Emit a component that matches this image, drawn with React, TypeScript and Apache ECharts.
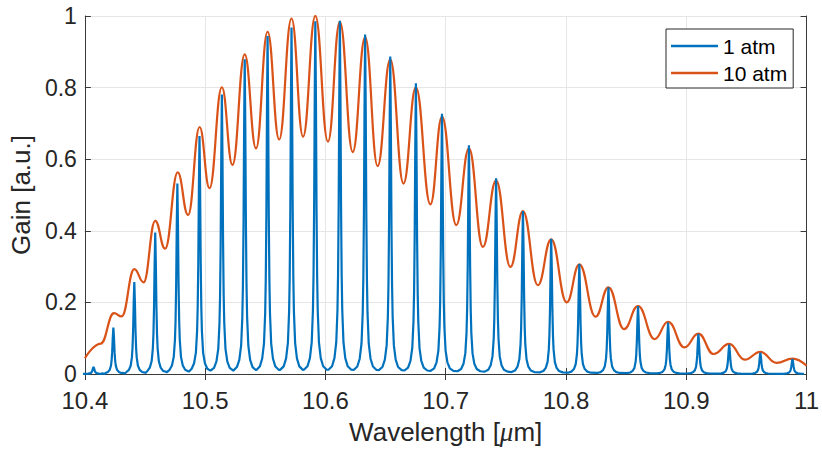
import React, { useEffect, useRef } from "react";
import * as echarts from "echarts";

// Tick labels
const xTickValues = [10.4, 10.5, 10.6, 10.7, 10.8, 10.9, 11];
const xTickLabels = ["10.4", "10.5", "10.6", "10.7", "10.8", "10.9", "11"];
const yTickValues = [0, 0.2, 0.4, 0.6, 0.8, 1];
const yTickLabels = ["0", "0.2", "0.4", "0.6", "0.8", "1"];

// 1 atm: line centres (µm) and peak gains
const lineCenters = [
  10.4072, 10.4237, 10.4411, 10.4585, 10.4769, 10.4953, 10.5139, 10.5329, 10.5519,
  10.5718, 10.5916, 10.612, 10.633, 10.6539, 10.6752, 10.6969, 10.7193, 10.7419,
  10.7642, 10.7877, 10.8111, 10.8353, 10.8599, 10.8849, 10.9101, 10.9357, 10.9616,
  10.9883,
];
const gain1atm = [
  0.02, 0.13, 0.257, 0.395, 0.532, 0.665, 0.781, 0.879, 0.944, 0.968, 0.985, 0.987,
  0.948, 0.887, 0.812, 0.727, 0.639, 0.547, 0.455, 0.378, 0.307, 0.242, 0.19, 0.144,
  0.112, 0.082, 0.06, 0.042,
];
// shape of one narrow line (offset from centre in µm, fraction of peak)
const profileOffsets = [0, 0.0005, 0.001, 0.0015, 0.002, 0.003, 0.0045, 0.0065, 0.0095];
const profileFractions = [1, 0.78, 0.47, 0.28, 0.18, 0.09, 0.045, 0.022, 0.012];

// 10 atm: wavelength / gain at peaks, troughs and a few edge points
const wl10atm = [
  10.4, 10.4132, 10.4242, 10.4306, 10.4411, 10.4488, 10.4585, 10.4667, 10.4772,
  10.4858, 10.4954, 10.5036, 10.5139, 10.5227, 10.5329, 10.5423, 10.5519, 10.5615,
  10.5718, 10.5814, 10.5916, 10.6021, 10.612, 10.6227, 10.633, 10.6434, 10.6539,
  10.6649, 10.6752, 10.6873, 10.6969, 10.7088, 10.7193, 10.7309, 10.7419, 10.7538,
  10.7642, 10.7766, 10.7877, 10.8006, 10.8111, 10.8246, 10.8353, 10.8483, 10.8599,
  10.8737, 10.8849, 10.8985, 10.9101, 10.9227, 10.9357, 10.9486, 10.9616, 10.9751,
  10.9883, 11.0,
];
const gain10atm = [
  0.044, 0.085, 0.17, 0.161, 0.293, 0.256, 0.428, 0.35, 0.563, 0.444, 0.69,
  0.519, 0.801, 0.584, 0.893, 0.63, 0.956, 0.655, 0.993, 0.663, 1.0, 0.649, 0.984,
  0.62, 0.941, 0.581, 0.879, 0.532, 0.801, 0.474, 0.719, 0.416, 0.63, 0.355, 0.541,
  0.299, 0.455, 0.248, 0.376, 0.2, 0.306, 0.16, 0.242, 0.1255, 0.19, 0.0976, 0.146,
  0.0744, 0.113, 0.0558, 0.084, 0.04, 0.062, 0.031, 0.043, 0.023,
];

const seriesNames = ["1 atm", "10 atm"];
const FONT = "'Liberation Sans', Arial, Helvetica, sans-serif";

export default function App() {
  const ref = useRef<HTMLDivElement>(null);
  useEffect(() => {
    if (!ref.current) return;
    const chart = echarts.init(ref.current, undefined, { renderer: "svg" });

    const blue: [number, number][] = [];
    lineCenters.forEach((c, i) => {
      const h = gain1atm[i];
      for (let j = profileOffsets.length - 1; j >= 1; j--) blue.push([c - profileOffsets[j], h * profileFractions[j]]);
      blue.push([c, h]);
      for (let j = 1; j < profileOffsets.length; j++) blue.push([c + profileOffsets[j], h * profileFractions[j]]);
    });
    blue.sort((a, b) => a[0] - b[0]);
    const orange = wl10atm.map((w, i) => [w, gain10atm[i]]);

    const xFmt = (v: number) => {
      const k = xTickValues.findIndex((t) => Math.abs(t - v) < 1e-6);
      return k >= 0 ? xTickLabels[k] : "";
    };
    const yFmt = (v: number) => {
      const k = yTickValues.findIndex((t) => Math.abs(t - v) < 1e-6);
      return k >= 0 ? yTickLabels[k] : "";
    };
    const axisLineColor = "#3a3a3a";
    const tickStyle = { show: true, inside: true, length: 6, lineStyle: { color: axisLineColor, width: 1 } };

    chart.setOption({
      animation: false,
      backgroundColor: "#ffffff",
      grid: { left: 84, right: 12, top: 16, bottom: 75, containLabel: false },
      legend: {
        data: seriesNames,
        orient: "vertical",
        left: 666,
        top: 29,
        icon: "rect",
        backgroundColor: "#ffffff",
        borderColor: "#262626",
        borderWidth: 1,
        borderRadius: 0,
        padding: [6, 6, 4, 5],
        itemWidth: 47,
        itemHeight: 2.5,
        itemGap: 5,
        textStyle: { fontFamily: FONT, fontSize: 21, color: "#000", lineHeight: 22, padding: [0, 0, 0, 0] },
      },
      xAxis: [
        {
          type: "value",
          min: 10.4,
          max: 11,
          interval: 0.1,
          position: "bottom",
          name: "Wavelength [{i|μ}m]",
          nameLocation: "middle",
          nameGap: 44,
          nameTextStyle: {
            fontFamily: FONT,
            fontSize: 26,
            color: "#262626",
            rich: { i: { fontFamily: "'Liberation Serif', 'DejaVu Serif', serif", fontStyle: "italic", fontSize: 27, color: "#262626" } },
          },
          axisLine: { show: true, lineStyle: { color: axisLineColor, width: 1 } },
          axisTick: tickStyle,
          axisLabel: { formatter: xFmt, fontFamily: FONT, fontSize: 24, lineHeight: 24, color: "#262626", margin: 14 },
          splitLine: { show: true, lineStyle: { color: "#e6e6e6", width: 1 } },
        },
        {
          type: "value",
          min: 10.4,
          max: 11,
          interval: 0.1,
          position: "top",
          axisLine: { show: true, lineStyle: { color: axisLineColor, width: 1 } },
          axisTick: tickStyle,
          axisLabel: { show: false },
          splitLine: { show: false },
        },
      ],
      yAxis: [
        {
          type: "value",
          min: 0,
          max: 1,
          interval: 0.2,
          position: "left",
          name: "Gain [a.u.]",
          nameLocation: "middle",
          nameGap: 49,
          nameTextStyle: { fontFamily: FONT, fontSize: 26, color: "#262626" },
          axisLine: { show: true, lineStyle: { color: axisLineColor, width: 1 } },
          axisTick: tickStyle,
          axisLabel: { formatter: yFmt, fontFamily: FONT, fontSize: 23, lineHeight: 20, color: "#262626", margin: 8 },
          splitLine: { show: true, lineStyle: { color: "#e6e6e6", width: 1 } },
        },
        {
          type: "value",
          min: 0,
          max: 1,
          interval: 0.2,
          position: "right",
          axisLine: { show: true, lineStyle: { color: axisLineColor, width: 1 } },
          axisTick: tickStyle,
          axisLabel: { show: false },
          splitLine: { show: false },
        },
      ],
      series: [
        {
          name: seriesNames[0],
          type: "line",
          data: blue,
          symbol: "none",
          showSymbol: false,
          z: 3,
          lineStyle: { color: "#0072BD", width: 2.2 },
          itemStyle: { color: "#0072BD" },
          clip: true,
        },
        {
          name: seriesNames[1],
          type: "line",
          data: orange,
          symbol: "none",
          showSymbol: false,
          smooth: 0.45,
          smoothMonotone: "x",
          z: 2,
          lineStyle: { color: "#D95319", width: 2.2 },
          itemStyle: { color: "#D95319" },
          clip: true,
        },
      ],
    });
    return () => chart.dispose();
  }, []);
  return <div ref={ref} style={{ position: "fixed", left: 0, top: 0, width: 822, height: 450 }} />;
}
